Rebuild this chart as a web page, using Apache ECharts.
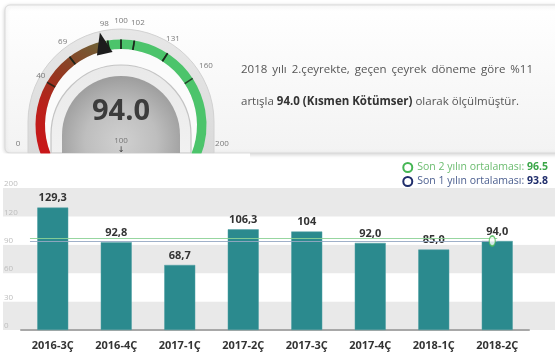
<!DOCTYPE html>
<html><head><meta charset="utf-8">
<script src="https://cdn.jsdelivr.net/npm/echarts@6/dist/echarts.min.js"></script>
<style>html,body{margin:0;padding:0;background:#fff}#c{width:555px;height:355px}</style>
</head><body><div id="c"></div>
<script>
// ---- data ----
const categories = ['2016-3Ç','2016-4Ç','2017-1Ç','2017-2Ç','2017-3Ç','2017-4Ç','2018-1Ç','2018-2Ç'];
const values = [129.3, 92.8, 68.7, 106.3, 104, 92.0, 85.0, 94.0];
const valueLabels = ['129,3','92,8','68,7','106,3','104','92,0','85,0','94,0'];
const yTickLabels = ['0','30','60','90','120','200'];
const avg2Name = 'Son 2 yılın ortalaması';
const avg2 = 96.5;
const avg1Name = 'Son 1 yılın ortalaması';
const avg1 = 93.8;
const gaugeValue = 94.0;
const gaugeTicks = [0, 40, 69, 98, 100, 102, 131, 160, 200];
const refValue = '100';
const headline1 = '2018 yılı 2.çeyrekte, geçen çeyrek döneme göre %11';
const headline2a = 'artışla ';
const headline2b = '94.0 (Kısmen Kötümser)';
const headline2c = ' olarak ölçülmüştür.';

// ---- layout (non-linear gauge scale angles, styling) ----
const tickAngles = [190, 150, 127, 99, 90, 81, 57, 33, -10];
const labelDist = [-21.5, -12.5, -19, -21.5, -22.5, -22.5, -22.5, -24];
const GC = [121, 125], GR = 85.5, BW = 9.5;
const FONT = '"Open Sans", "Noto Sans", sans-serif';

const chart = echarts.init(document.getElementById('c'), null, {renderer: 'canvas', width: 555, height: 355});
const LG = echarts.graphic.LinearGradient;

const redGrad = new LG(0, 1, 1, 0, [
  {offset: 0, color: '#cc1418'},
  {offset: 0.35, color: '#ba211b'},
  {offset: 0.6, color: '#953820'},
  {offset: 0.85, color: '#7a5430'},
  {offset: 1, color: '#6a6838'}
]);

const series = [];
// colour band
series.push({
  type: 'gauge', center: GC, radius: GR, startAngle: 202, endAngle: -22, min: 0, max: 1,
  splitNumber: 1, z: 2, animation: false,
  axisLine: {lineStyle: {width: BW, color: [[0.455, redGrad], [1, '#4cc46b']]}},
  axisTick: {show: false}, splitLine: {show: false}, axisLabel: {show: false},
  pointer: {show: false}, detail: {show: false}, title: {show: false}, data: []
});
// non-linear scale segments
for (let i = 0; i < gaugeTicks.length - 1; i++) {
  const lo = gaugeTicks[i], hi = gaugeTicks[i + 1];
  const last = i === gaugeTicks.length - 2;
  const hasVal = gaugeValue >= lo && gaugeValue < hi;
  series.push({
    type: 'gauge', center: GC, radius: GR, min: lo, max: hi,
    startAngle: tickAngles[i], endAngle: tickAngles[i + 1], splitNumber: 1, z: 3,
    animation: false,
    axisLine: {show: false, lineStyle: {width: BW}},
    axisTick: {show: false},
    splitLine: {show: i > 0 && !last, distance: -BW, length: BW,
      lineStyle: {color: 'rgba(25,35,25,0.8)', width: 1.6}},
    axisLabel: {distance: labelDist[i], fontSize: 8, color: '#7a7a7a', fontFamily: FONT,
      formatter: v => (v === lo || (last && v === hi)) ? String(v) : ''},
    pointer: {show: hasVal, icon: 'triangle', length: 22, width: 16, offsetCenter: [0, -73],
      itemStyle: {color: '#1c1c1c'}},
    anchor: {show: false},
    title: {show: false},
    detail: {show: hasVal, offsetCenter: [0, -13], fontSize: 29, fontWeight: 'bold',
      fontFamily: FONT, color: '#3c3c3c', formatter: v => v.toFixed(1)},
    data: hasVal ? [{value: gaugeValue}] : []
  });
}

// bars
series.push({
  type: 'bar', xAxisIndex: 0, yAxisIndex: 0, data: values, barWidth: 31, z: 2,
  itemStyle: {color: '#2b8a8e', borderColor: '#4f9fa2', borderWidth: 0.5},
  label: {show: true, position: 'top', distance: 4, formatter: p => valueLabels[p.dataIndex],
    color: '#333', fontWeight: 'bold', fontSize: 11, fontFamily: FONT}
});
// average lines
function avgSeries(name, val, color, lineColor) {
  return {
    type: 'line', name: name, xAxisIndex: 0, yAxisIndex: 0, data: [], z: 4,
    itemStyle: {color: color}, lineStyle: {color: color},
    markLine: {symbol: 'none', silent: true, animation: false, label: {show: false},
      lineStyle: {color: lineColor, width: 1, type: 'solid'},
      data: [[{x: '5.4%', yAxis: val}, {xAxis: categories[categories.length - 1], yAxis: val}]]}
  };
}
series.push(avgSeries(avg2Name, avg2, '#45b654', 'rgba(140,210,150,0.9)'));
series.push(avgSeries(avg1Name, avg1, '#1f2d6b', 'rgba(150,168,195,0.9)'));
// current value marker
series.push({
  type: 'scatter', xAxisIndex: 0, yAxisIndex: 0, z: 6,
  data: [[categories[categories.length - 1], gaugeValue]],
  symbol: 'circle', symbolSize: [6, 10], symbolOffset: [-5, 0],
  itemStyle: {color: '#ffffff', borderColor: '#4cbb5a', borderWidth: 1.5}
});

const words1 = headline1.split(' ');
const option = {
  animation: false,
  grid: [
    {left: 21, right: 26, top: 188, bottom: 25},
    {left: 3, right: 0, top: 188, bottom: 25}
  ],
  xAxis: [
    {gridIndex: 0, type: 'category', data: categories,
      axisLine: {lineStyle: {color: '#a8a8a8', width: 2}}, axisTick: {show: false},
      axisLabel: {color: '#333', fontWeight: 'bold', fontSize: 11, fontFamily: FONT, margin: 10}},
    {gridIndex: 1, type: 'value', show: false, min: 0, max: 1}
  ],
  yAxis: [
    {gridIndex: 0, type: 'value', min: 0, max: 150, interval: 30, show: false},
    {gridIndex: 1, type: 'value', min: 0, max: 150, interval: 30, z: 0,
      axisLine: {show: false}, axisTick: {show: false}, splitLine: {show: false},
      splitArea: {show: true, areaStyle: {color: ['#e9e9e9', '#ffffff']}},
      axisLabel: {inside: true, verticalAlign: 'bottom', margin: 1, fontSize: 8, color: '#bdbdbd',
        fontFamily: FONT, formatter: v => yTickLabels[Math.round(v / 30)]}}
  ],
  legend: {
    orient: 'vertical', right: 2, top: 157, itemWidth: 9, itemHeight: 9, itemGap: 3, z: 30,
    icon: 'emptyCircle',
    itemStyle: {borderWidth: 2},
    data: [avg2Name, avg1Name],
    formatter: name => name === avg2Name
      ? `{n1|${name}: }{v1|${avg2}}`
      : `{n2|${name}: }{v2|${avg1}}`,
    textStyle: {fontSize: 10.5, fontFamily: FONT,
      rich: {
        n1: {color: '#6cbc70', fontSize: 10.5, fontFamily: FONT},
        v1: {color: '#3aa648', fontSize: 10.5, fontWeight: 'bold', fontFamily: FONT},
        n2: {color: '#4d6090', fontSize: 10.5, fontFamily: FONT},
        v2: {color: '#1f2d6b', fontSize: 10.5, fontWeight: 'bold', fontFamily: FONT}
      }}
  },
  graphic: [
    {type: 'rect', z: 0, shape: {x: 5, y: 5, width: 560, height: 148, r: 5},
      style: {fill: new LG(0, 0, 0, 1, [{offset: 0, color: '#ffffff'}, {offset: 1, color: '#f3f3f3'}]),
        stroke: '#d9d9d9', lineWidth: 1, shadowBlur: 4, shadowColor: 'rgba(0,0,0,0.18)', shadowOffsetY: 1}},
    {type: 'rect', z: 1, shape: {x: 28, y: 29, width: 186, height: 124, r: [93, 93, 0, 0]},
      style: {fill: new LG(0, 0, 0, 1, [{offset: 0, color: '#e7e7e7'}, {offset: 1, color: '#dadada'}]),
        stroke: '#d2d2d2', lineWidth: 1}},
    {type: 'rect', z: 1, shape: {x: 45, y: 49, width: 152, height: 104, r: [76, 76, 0, 0]},
      style: {fill: '#fbfbfb'}},
    {type: 'rect', z: 1, shape: {x: 51, y: 65, width: 140, height: 88, r: [70, 70, 0, 0]},
      style: {fill: new LG(0, 0, 0, 1, [{offset: 0, color: '#e9e9e9'}, {offset: 1, color: '#f1f1f1'}]),
        stroke: '#c4c4c4', lineWidth: 1.2}},
    {type: 'rect', z: 1, shape: {x: 62, y: 76, width: 118, height: 77, r: [59, 59, 0, 0]},
      style: {fill: new echarts.graphic.RadialGradient(0.5, 0.85, 0.85, [
        {offset: 0, color: '#d0d0d0'}, {offset: 0.55, color: '#bebebe'}, {offset: 1, color: '#9d9d9d'}])}},
    {type: 'text', z: 5, style: {text: refValue, x: 121, y: 141, align: 'center', verticalAlign: 'middle',
      fontSize: 8, fontFamily: FONT, fill: '#777'}},
    {type: 'text', z: 5, style: {text: '↓', x: 121, y: 150, align: 'center', verticalAlign: 'middle',
      fontSize: 8, fontFamily: 'DejaVu Sans', fill: '#333'}},
    {type: 'rect', z: 20, shape: {x: 0, y: 153.6, width: 250, height: 6}, style: {fill: '#ffffff'}},
    {type: 'text', z: 5, style: {
      text: words1.map(w => `{r|${w}}`).join('{s| }'), x: 241, y: 70, verticalAlign: 'middle',
      rich: {
        r: {fontSize: 11.5, fontFamily: FONT, fill: '#555'},
        s: {fontSize: 11.5, fontFamily: FONT, width: 5}
      }}},
    {type: 'text', z: 5, style: {
      text: `{r|${headline2a}}{b|${headline2b}}{r|${headline2c}}`, x: 241, y: 102, verticalAlign: 'middle',
      rich: {
        r: {fontSize: 11.5, fontFamily: FONT, fill: '#555'},
        b: {fontSize: 11.5, fontFamily: FONT, fontWeight: 'bold', fill: '#333'}
      }}}
  ],
  series: series
};
chart.setOption(option);
</script>
</body></html>
